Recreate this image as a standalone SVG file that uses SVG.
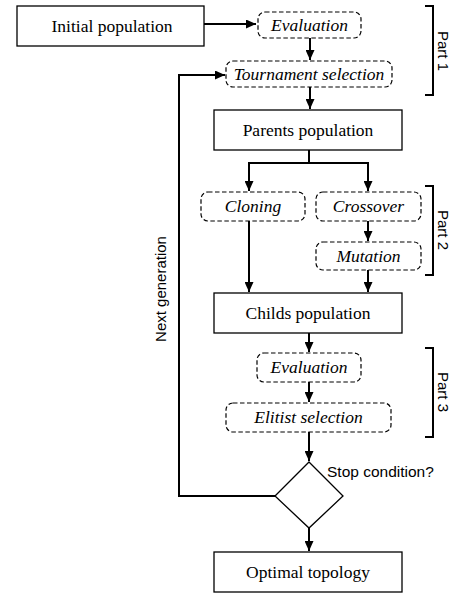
<svg xmlns="http://www.w3.org/2000/svg" width="459" height="594" viewBox="0 0 459 594">
<defs>
<marker id="ah" viewBox="0 0 10 10" refX="10" refY="5" markerWidth="10" markerHeight="9" markerUnits="userSpaceOnUse" orient="auto" preserveAspectRatio="none">
<path d="M0,0 L10,5 L0,10 z" fill="#000"/>
</marker>
<style>
.box{fill:#fff;stroke:#000;stroke-width:1.3}
.dash{fill:#fff;stroke:#000;stroke-width:1.2;stroke-dasharray:4.5 2.5}
.t{font-family:"Liberation Serif","Times New Roman",serif;font-size:17.5px;text-anchor:middle;fill:#000}
.ti{font-family:"Liberation Serif","Times New Roman",serif;font-size:17.5px;font-style:italic;text-anchor:middle;fill:#000}
.s{font-family:"Liberation Sans",Arial,sans-serif;font-size:15px;fill:#000}
.c{fill:none;stroke:#000;stroke-width:2}
.br{fill:none;stroke:#000;stroke-width:2}
</style>
</defs>
<g id="connectors">
<path class="c" d="M204,24 H256" marker-end="url(#ah)"/>
<path class="c" d="M310,38 V60" marker-end="url(#ah)"/>
<path class="c" d="M310,87 V109" marker-end="url(#ah)"/>
<path class="c" d="M309,150 V163"/>
<path class="c" d="M249,163 H368"/>
<path class="c" d="M249,162 V191" marker-end="url(#ah)"/>
<path class="c" d="M368,162 V191" marker-end="url(#ah)"/>
<path class="c" d="M368,221 V241" marker-end="url(#ah)"/>
<path class="c" d="M249,221 V292" marker-end="url(#ah)"/>
<path class="c" d="M368,270 V292" marker-end="url(#ah)"/>
<path class="c" d="M309,333 V352" marker-end="url(#ah)"/>
<path class="c" d="M309,382 V402" marker-end="url(#ah)"/>
<path class="c" d="M309,432 V461" marker-end="url(#ah)"/>
<path class="c" d="M309,528 V551" marker-end="url(#ah)"/>
<path class="c" d="M275,496 H179 V75 H225" marker-end="url(#ah)"/>
</g>
<g id="initial"><rect class="box" x="17" y="6" width="187" height="40"/><text class="t" x="112" y="32">Initial population</text></g>
<g id="eval1"><rect class="dash" x="258" y="12" width="103" height="26" rx="7"/><text class="ti" x="309.5" y="31">Evaluation</text></g>
<g id="tournament"><rect class="dash" x="226" y="61" width="166" height="26" rx="7"/><text class="ti" x="309" y="80">Tournament selection</text></g>
<g id="parents"><rect class="box" x="214" y="110" width="188" height="40"/><text class="t" x="308" y="136">Parents population</text></g>
<g id="cloning"><rect class="dash" x="201" y="192" width="104" height="29" rx="7"/><text class="ti" x="253" y="212">Cloning</text></g>
<g id="crossover"><rect class="dash" x="316" y="192" width="105" height="29" rx="7"/><text class="ti" x="368.5" y="212">Crossover</text></g>
<g id="mutation"><rect class="dash" x="316" y="242" width="105" height="28" rx="7"/><text class="ti" x="368.5" y="262">Mutation</text></g>
<g id="childs"><rect class="box" x="214" y="293" width="188" height="40"/><text class="t" x="308" y="319">Childs population</text></g>
<g id="eval2"><rect class="dash" x="257" y="353" width="104" height="29" rx="7"/><text class="ti" x="309" y="373">Evaluation</text></g>
<g id="elitist"><rect class="dash" x="226" y="403" width="165" height="29" rx="7"/><text class="ti" x="308.5" y="423">Elitist selection</text></g>
<g id="stop"><path class="box" d="M309,462 L343,496 L309,528 L275,496 z"/><text class="s" x="327" y="477" style="font-size:15.5px">Stop condition?</text></g>
<g id="optimal"><rect class="box" x="214" y="552" width="188" height="40"/><text class="t" x="308" y="578">Optimal topology</text></g>
<g id="part1"><path class="br" d="M425,6 H433 V95 H425"/><text class="s" text-anchor="middle" transform="translate(443,51) rotate(90)" dy="5">Part 1</text></g>
<g id="part2"><path class="br" d="M425,186 H433 V275 H425"/><text class="s" text-anchor="middle" transform="translate(443,230) rotate(90)" dy="5">Part 2</text></g>
<g id="part3"><path class="br" d="M425,348 H433 V437 H425"/><text class="s" text-anchor="middle" transform="translate(443,392) rotate(90)" dy="5">Part 3</text></g>
<g id="nextgen"><text class="s" text-anchor="middle" transform="translate(161,289) rotate(-90)" dy="5">Next generation</text></g>
</svg>
